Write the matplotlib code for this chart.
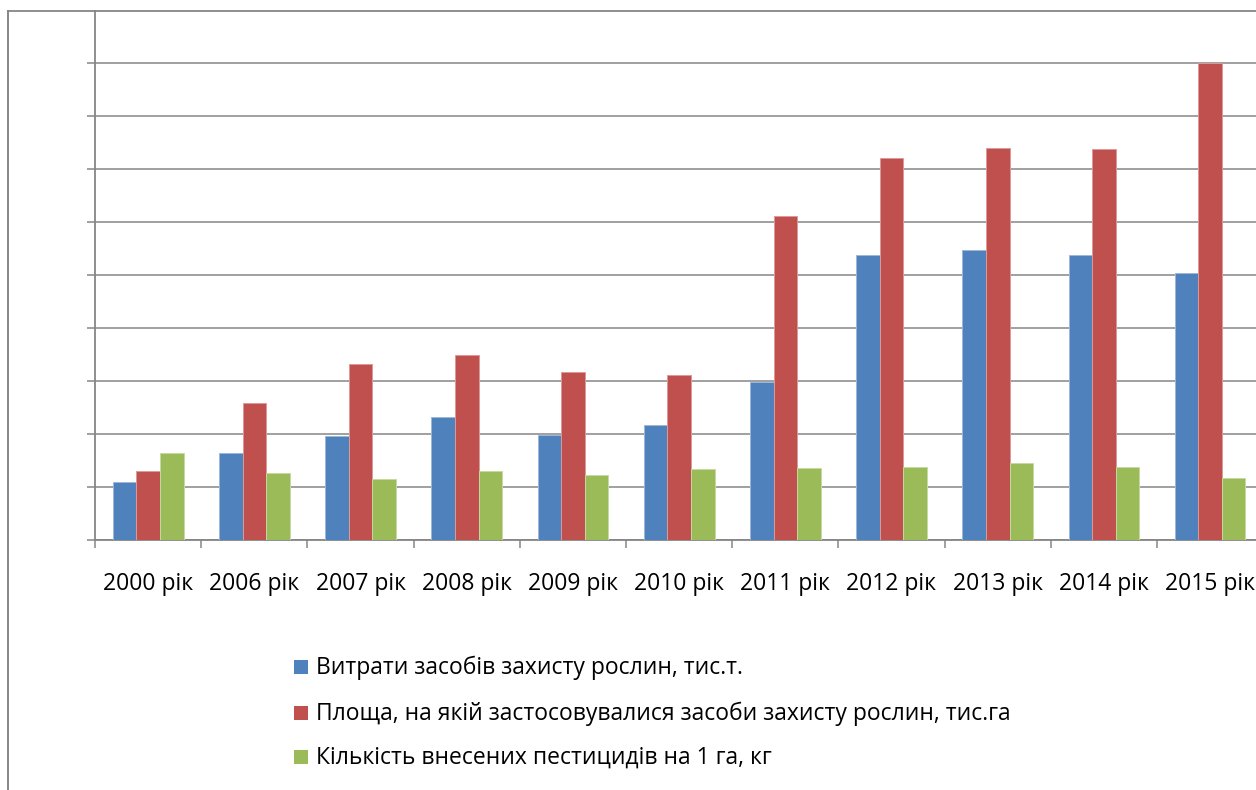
import matplotlib
matplotlib.use("Agg")
import matplotlib.pyplot as plt
import numpy as np
from matplotlib.patches import Rectangle
from matplotlib.lines import Line2D

plt.rcParams['font.family'] = ['Open Sans', 'DejaVu Sans']

years = ["2000 рік", "2006 рік", "2007 рік", "2008 рік", "2009 рік", "2010 рік",
         "2011 рік", "2012 рік", "2013 рік", "2014 рік", "2015 рік"]
series_names = [
    "Витрати засобів захисту рослин, тис.т.",
    "Площа, на якій застосовувалися засоби захисту рослин, тис.га",
    "Кількість внесених пестицидів на 1 га, кг",
]
spending = [10.9, 16.4, 19.7, 23.3, 19.8, 21.8, 29.9, 53.8, 54.8, 53.8, 50.4]
area = [13.0, 25.8, 33.2, 35.0, 31.8, 31.1, 61.1, 72.2, 74.0, 73.8, 90.1]
per_ha = [16.4, 12.6, 11.6, 13.0, 12.3, 13.5, 13.6, 13.8, 14.6, 13.8, 11.8]
colors = ["#4F81BD", "#C0504D", "#9BBB59"]
edge_colors = ["#9DB7D9", "#DB9A98", "#C5D9A0"]

W, H = 1256, 790
fig = plt.figure(figsize=(W / 100, H / 100), dpi=100)

grid_c = "#868686"

# plot area in pixel coordinates (left, top, right, bottom)
px_l, px_t, px_r, px_b = 95, 10.5, 95 + 11 * 106.2, 540
ax = fig.add_axes([px_l / W, 1 - px_b / H, (px_r - px_l) / W, (px_b - px_t) / H])
ax.patch.set_visible(False)

n = len(years)
x = np.arange(n)
bw = 1 / 4.5
for i, vals in enumerate([spending, area, per_ha]):
    ax.bar(x + (i - 1) * bw, vals, width=bw, color=colors[i],
           edgecolor=edge_colors[i], linewidth=0.7, zorder=3)

ax.set_xlim(-0.5, n - 0.5)
ax.set_ylim(0, 100)

ax.set_yticks(np.arange(0, 100, 10))
ax.set_yticklabels([])
ax.yaxis.grid(True, color=grid_c, linewidth=1.1, zorder=1)
ax.set_axisbelow(True)

ax.set_xticks(np.arange(n + 1) - 0.5)
ax.set_xticklabels([])
ax.set_xticks(x, minor=True)
ax.set_xticklabels(years, minor=True, fontsize=16.5, color="black")
ax.tick_params(axis='x', which='minor', length=0, pad=23)
ax.tick_params(axis='both', which='major', length=6, width=1.1, color=grid_c,
               direction='out')

ax.spines["right"].set_visible(False)
for s in ["left", "bottom", "top"]:
    ax.spines[s].set_color(grid_c)
    ax.spines[s].set_linewidth(1.3)

# outer chart frame: left edge and the top edge left of the plot area
top_y = 1 - px_t / H
fig.add_artist(Line2D([8 / W, 8 / W], [top_y, 0], transform=fig.transFigure,
                      color=grid_c, linewidth=1.4))
fig.add_artist(Line2D([8 / W, px_l / W], [top_y, top_y], transform=fig.transFigure,
                      color=grid_c, linewidth=1.3))

# legend
rows = [667, 713, 757]
for name, c, yc in zip(series_names, colors, rows):
    fig.add_artist(Rectangle((294 / W, 1 - (yc + 7) / H), 14 / W, 14 / H,
                             transform=fig.transFigure, facecolor=c,
                             edgecolor="none"))
    fig.text(316 / W, 1 - (yc + 1) / H, name, fontsize=16.5, va="center",
             ha="left", color="black")

fig.savefig("out.png", dpi=100)
